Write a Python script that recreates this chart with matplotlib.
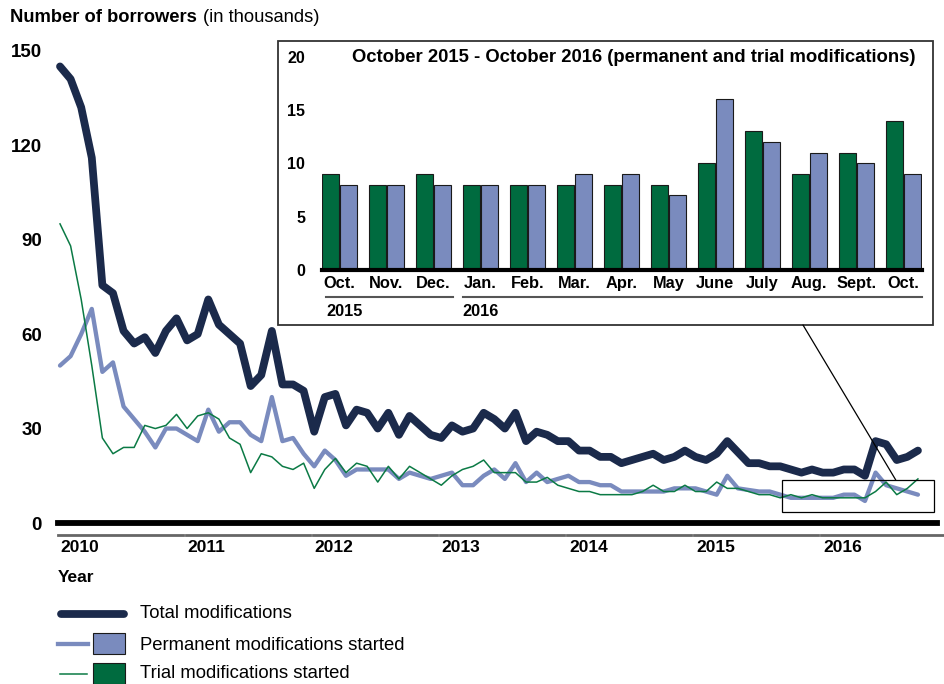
import matplotlib
matplotlib.use("Agg")
import matplotlib.pyplot as plt
import numpy as np
from matplotlib.lines import Line2D
from matplotlib.patches import Rectangle, ConnectionPatch
from matplotlib.transforms import blended_transform_factory

plt.rcParams["font.family"] = ["Liberation Sans", "DejaVu Sans"]

# monthly series, Jan 2010 .. Oct 2016 (thousands of borrowers)
total = [145, 141, 132, 116, 75.5, 73, 61, 57, 59, 54, 61, 65,
         58, 60, 71, 63, 60, 57, 43.5, 47, 61, 44, 44, 42,
         29, 40, 41, 31, 36, 35, 30, 35, 28, 34, 31, 28,
         27, 31, 29, 30, 35, 33, 30, 35, 26, 29, 28, 26,
         26, 23, 23, 21, 21, 19, 20, 21, 22, 20, 21, 23,
         21, 20, 22, 26, 22.5, 19, 19, 18, 18, 17, 16, 17,
         16, 16, 17, 17, 15, 26, 25, 20, 21, 23]
permanent = [50, 53, 60, 68, 48, 51, 37, 33, 29, 24, 30, 30,
             28, 26, 36, 29, 32, 32, 28, 26, 40, 26, 27, 22,
             18, 23, 20, 15, 17, 17, 17, 17, 14, 16, 15, 14,
             15, 16, 12, 12, 15, 17, 14, 19, 13, 16, 13, 14,
             15, 13, 13, 12, 12, 10, 10, 10, 10, 10, 11, 11,
             11, 10, 9, 15, 11, 10.5, 10, 10, 9, 8, 8, 8,
             8, 8, 9, 9, 7, 16, 12, 11, 10, 9]
trial = [95, 88, 71, 50, 27, 22, 24, 24, 31, 30, 31, 34.5,
         30, 34, 35, 33, 27, 25, 16, 22, 21, 18, 17, 19,
         11, 17, 20.5, 16, 19, 18, 13, 18, 14, 18, 16, 14,
         12, 15, 17, 18, 20, 16, 16, 16, 13, 13, 14.5, 12,
         11, 10, 10, 9, 9, 9, 9, 10, 12, 10, 10, 12,
         10, 10, 13, 11, 11, 10, 9, 9, 8, 9, 8, 9,
         8, 8, 8, 8, 8, 10, 13, 9, 11, 14]
years = ["2010", "2011", "2012", "2013", "2014", "2015", "2016"]
y_ticks = [0, 30, 60, 90, 120, 150]

# inset: Oct 2015 .. Oct 2016
inset_months = ["Oct.", "Nov.", "Dec.", "Jan.", "Feb.", "Mar.", "Apr.",
                "May", "June", "July", "Aug.", "Sept.", "Oct."]
inset_trial = [9, 8, 9, 8, 8, 8, 8, 8, 10, 13, 9, 11, 14]
inset_perm = [8, 8, 8, 8, 8, 9, 9, 7, 16, 12, 11, 10, 9]
inset_ticks = [0, 5, 10, 15, 20]
inset_start = 69  # month index of Oct 2015

NAVY = "#1b2a4b"
BLUE = "#7a8bbe"
GREEN_LINE = "#0b7a45"
GREEN = "#006b3f"

W, H = 945, 684
fig = plt.figure(figsize=(W / 100, H / 100), dpi=100)


def px_axes(l, t, r, b):
    return fig.add_axes([l / W, 1 - b / H, (r - l) / W, (b - t) / H])


def fy(py):
    return 1 - py / H


# ---- main chart
ax = px_axes(58, 50.7, 937, 523)
x = np.arange(len(total))
ax.plot(x, permanent, color=BLUE, lw=3.1, solid_joinstyle="round", solid_capstyle="round", zorder=3, clip_on=False)
ax.plot(x, trial, color=GREEN_LINE, lw=1.1, zorder=4, clip_on=False)
ax.plot(x, total, color=NAVY, lw=5.6, solid_joinstyle="round", solid_capstyle="round", zorder=5, clip_on=False)
ax.axhline(0, color="black", lw=4.2, zorder=6, clip_on=False)
ax.set_xlim(-0.19, 82.8)
ax.set_ylim(0, 150)
ax.set_yticks(y_ticks)
ax.set_yticklabels([str(v) for v in y_ticks], fontsize=13.5, fontweight="bold")
ax.tick_params(axis="y", length=0, pad=11.5)
ax.set_xticks([])
for s in ax.spines.values():
    s.set_visible(False)

bt = blended_transform_factory(ax.transData, fig.transFigure)
for k, yr in enumerate(years):
    ax.add_line(Line2D([12 * k - 0.15, 12 * k + 11.6], [fy(535), fy(535)], transform=bt,
                       color="#666666", lw=2, clip_on=False))
    ax.text(12 * k + 0.05, fy(548), yr, transform=bt, fontsize=12.5, fontweight="bold",
            ha="left", va="center")
fig.text(58 / W, fy(578), "Year", fontsize=12.5, fontweight="bold", ha="left", va="center")

fig.text(10 / W, fy(18), "Number of borrowers", fontsize=13.2, fontweight="bold", ha="left", va="center")
fig.text(203 / W, fy(18), "(in thousands)", fontsize=13.2, ha="left", va="center")

# zoom rectangle around inset period
n_in = len(inset_months)
rx0, rx1 = inset_start - 0.8, inset_start + n_in - 1 + 1.5
ax.add_patch(Rectangle((rx0, 3.6), rx1 - rx0, 10.1, fill=False, edgecolor="black",
                       lw=0.9, zorder=7, clip_on=False))

# ---- inset box
fig.add_artist(Rectangle((278 / W, fy(325)), (933 - 278) / W, (325 - 41) / H,
                         transform=fig.transFigure, facecolor="white", edgecolor="#333333",
                         lw=1.3, zorder=1))
con = ConnectionPatch(xyA=(803 / W, fy(325)), coordsA=fig.transFigure,
                      xyB=(inset_start + 9.9, 13.7), coordsB=ax.transData,
                      color="black", lw=0.9, zorder=8)
fig.add_artist(con)

iax = px_axes(321.7, 56.7, 922, 270)
iax.set_zorder(2)
iax.patch.set_alpha(0)
gx = np.arange(n_in)
bw = 0.365
iax.bar(gx - 0.19, inset_trial, width=bw, color=GREEN, edgecolor="#1a1a1a", lw=0.8, zorder=2)
iax.bar(gx + 0.19, inset_perm, width=bw, color=BLUE, edgecolor="#1a1a1a", lw=0.8, zorder=2)
iax.axhline(0, color="black", lw=3, zorder=3, clip_on=False)
iax.set_xlim(-0.38, 12.4)
iax.set_ylim(0, 20)
iax.set_yticks(inset_ticks)
iax.set_yticklabels([str(v) for v in inset_ticks], fontsize=11.5, fontweight="bold")
iax.tick_params(axis="y", length=0, pad=12)
iax.set_xticks(gx)
iax.set_xticklabels(inset_months, fontsize=11.8, fontweight="bold")
iax.tick_params(axis="x", length=0, pad=4)
for s in iax.spines.values():
    s.set_visible(False)

ibt = blended_transform_factory(iax.transData, fig.transFigure)
for x0, x1, yr in [(-0.29, 2.41, "2015"), (2.62, 12.4, "2016")]:
    iax.add_line(Line2D([x0, x1], [fy(297), fy(297)], transform=ibt, color="#555555",
                        lw=1.5, clip_on=False))
    iax.text(x0, fy(311.5), yr, transform=ibt, fontsize=11.8, fontweight="bold",
             ha="left", va="center")

fig.text(634 / W, fy(58), "October 2015 - October 2016 (permanent and trial modifications)",
         fontsize=13.3, fontweight="bold", ha="center", va="center", zorder=3)

# ---- legend
fig.add_artist(Line2D([61 / W, 124 / W], [fy(614), fy(614)], transform=fig.transFigure,
                      color=NAVY, lw=5.6, solid_capstyle="round"))
fig.add_artist(Line2D([58 / W, 88 / W], [fy(644), fy(644)], transform=fig.transFigure,
                      color=BLUE, lw=3.1))
fig.add_artist(Rectangle((92.7 / W, fy(654)), 32.3 / W, 21 / H, transform=fig.transFigure,
                         facecolor=BLUE, edgecolor="#1a1a1a", lw=0.8))
fig.add_artist(Line2D([60 / W, 87 / W], [fy(673.5), fy(673.5)], transform=fig.transFigure,
                      color=GREEN_LINE, lw=1.1))
fig.add_artist(Rectangle((92.7 / W, fy(683.5)), 32.3 / W, 21 / H, transform=fig.transFigure,
                         facecolor=GREEN, edgecolor="#1a1a1a", lw=0.8))
for py, lab in [(614, "Total modifications"), (645, "Permanent modifications started"),
                (674, "Trial modifications started")]:
    fig.text(140 / W, fy(py), lab, fontsize=13.3, ha="left", va="center")

fig.savefig("out.png", dpi=100)
